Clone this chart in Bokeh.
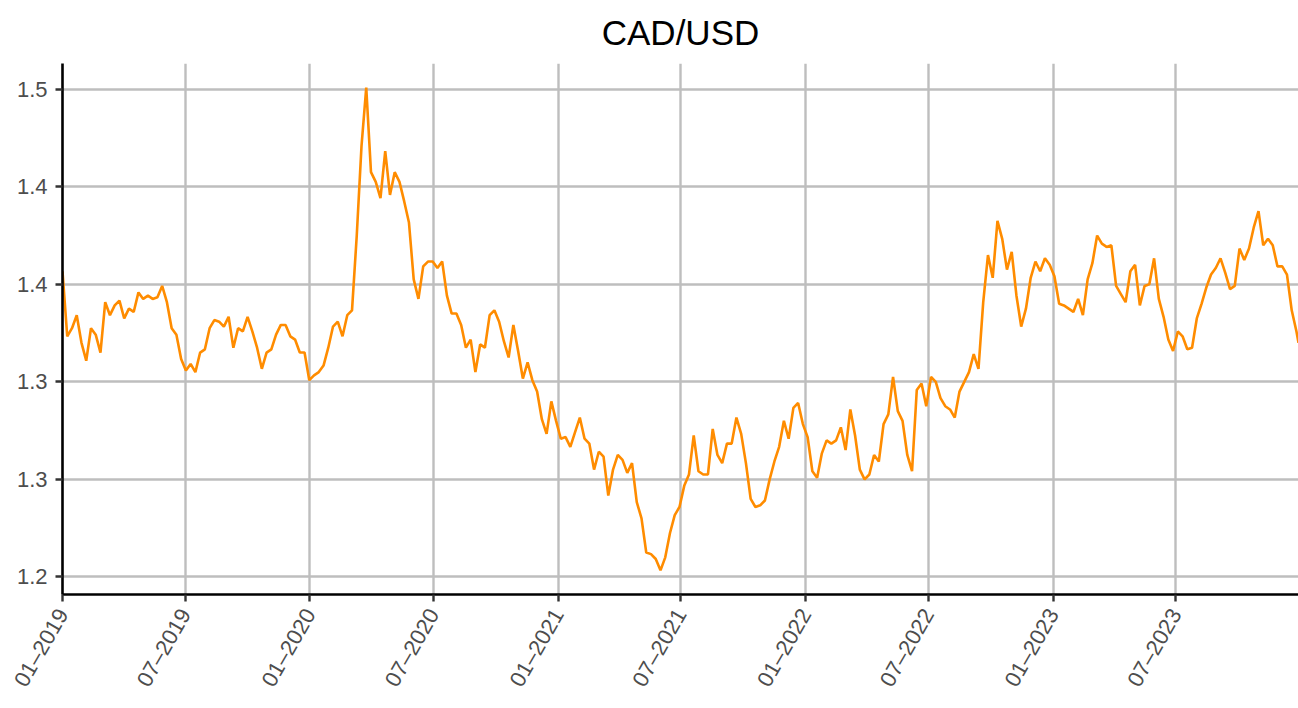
import pandas as pd
from bokeh.plotting import figure
from bokeh.models import Range1d, FixedTicker, DatetimeTickFormatter, PrintfTickFormatter, ColumnDataSource
from bokeh.embed import file_html
from bokeh.resources import INLINE

title_text = "CAD/USD"
start_date = "2019-01-01"
last_date = "2023-12-29"

# weekly readings of the CAD/USD series (from the picture)
rate_values = [
    1.388, 1.348, 1.353, 1.361, 1.344, 1.333, 1.353, 1.349, 1.338, 1.369,
    1.361, 1.367, 1.370, 1.359, 1.365, 1.363, 1.375, 1.371, 1.373, 1.371,
    1.372, 1.379, 1.369, 1.353, 1.349, 1.334, 1.327, 1.331, 1.326, 1.338,
    1.340, 1.353, 1.358, 1.357, 1.354, 1.360, 1.341, 1.353, 1.351, 1.360,
    1.351, 1.341, 1.328, 1.338, 1.340, 1.349, 1.355, 1.355, 1.348, 1.346,
    1.338, 1.338, 1.321, 1.324, 1.326, 1.330, 1.341, 1.354, 1.357, 1.348,
    1.361, 1.364, 1.410, 1.465, 1.501, 1.449, 1.443, 1.433, 1.462, 1.435,
    1.449, 1.443, 1.431, 1.418, 1.383, 1.371, 1.391, 1.394, 1.394, 1.390,
    1.394, 1.373, 1.362, 1.362, 1.355, 1.341, 1.346, 1.326, 1.343, 1.341,
    1.361, 1.364, 1.357, 1.345, 1.335, 1.355, 1.339, 1.322, 1.332, 1.321,
    1.314, 1.297, 1.288, 1.308, 1.296, 1.285, 1.286, 1.280, 1.289, 1.298,
    1.285, 1.282, 1.266, 1.277, 1.274, 1.250, 1.266, 1.275, 1.272, 1.264,
    1.270, 1.246, 1.236, 1.215, 1.214, 1.211, 1.204, 1.212, 1.227, 1.238,
    1.243, 1.256, 1.263, 1.287, 1.265, 1.263, 1.263, 1.291, 1.275, 1.270,
    1.282, 1.282, 1.298, 1.288, 1.270, 1.248, 1.243, 1.244, 1.247, 1.260,
    1.271, 1.280, 1.296, 1.285, 1.304, 1.307, 1.294, 1.286, 1.265, 1.261,
    1.276, 1.284, 1.282, 1.284, 1.292, 1.278, 1.303, 1.287, 1.266, 1.260,
    1.263, 1.275, 1.271, 1.294, 1.300, 1.323, 1.302, 1.296, 1.275, 1.265,
    1.315, 1.319, 1.305, 1.323, 1.320, 1.310, 1.305, 1.303, 1.298, 1.314,
    1.320, 1.326, 1.337, 1.328, 1.369, 1.398, 1.384, 1.419, 1.408, 1.389,
    1.400, 1.373, 1.354, 1.365, 1.384, 1.394, 1.388, 1.396, 1.392, 1.385,
    1.368, 1.367, 1.365, 1.363, 1.371, 1.361, 1.383, 1.393, 1.410, 1.405,
    1.403, 1.404, 1.379, 1.374, 1.369, 1.388, 1.392, 1.367, 1.379, 1.380,
    1.396, 1.371, 1.360, 1.346, 1.339, 1.351, 1.348, 1.340, 1.341, 1.359,
    1.368, 1.378, 1.386, 1.390, 1.396, 1.387, 1.377, 1.379, 1.402, 1.395,
    1.402, 1.415, 1.425, 1.404, 1.408, 1.404, 1.391, 1.391, 1.386, 1.364,
    1.351,
]
last_value = 1.344

x_tick_dates = ["2019-01-01", "2019-07-01", "2020-01-01", "2020-07-01", "2021-01-01",
                "2021-07-01", "2022-01-01", "2022-07-01", "2023-01-01", "2023-07-01"]
x_tick_labels = ["01–2019", "07–2019", "01–2020", "07–2020", "01–2021",
                 "07–2021", "01–2022", "07–2022", "01–2023", "07–2023"]
y_ticks = [1.2, 1.26, 1.32, 1.38, 1.44, 1.5]
y_tick_labels = ["1.2", "1.3", "1.3", "1.4", "1.4", "1.5"]

dates = list(pd.date_range(start_date, periods=len(rate_values), freq="7D")) + [pd.Timestamp(last_date)]
values = rate_values + [last_value]
source = ColumnDataSource(data=dict(date=dates, rate=values))

lo, hi = min(values), max(values)
pad = 0.05 * (hi - lo)

p = figure(width=1298, height=708, x_axis_type="datetime",
           output_backend="svg", toolbar_location=None,
           x_range=Range1d(dates[0].to_pydatetime(), dates[-1].to_pydatetime()),
           y_range=Range1d(lo - pad, hi + pad),
           min_border_left=62, min_border_right=0, min_border_top=63, min_border_bottom=114)

p.title.text = title_text
p.title.align = "center"
p.title.vertical_align = "top"
p.title.text_font = "Liberation Sans"
p.title.text_font_size = "35px"
p.title.text_font_style = "normal"
p.title.text_color = "#000000"
p.title.standoff = 20

p.outline_line_color = None
p.background_fill_color = "white"
p.border_fill_color = "white"

x_ms = [pd.Timestamp(d).value / 1e6 for d in x_tick_dates]
p.xaxis.ticker = FixedTicker(ticks=x_ms)
fmt = "%m–%Y"
p.xaxis.formatter = DatetimeTickFormatter(
    microseconds=fmt, milliseconds=fmt, seconds=fmt, minsec=fmt, minutes=fmt,
    hourmin=fmt, hours=fmt, days=fmt, months=fmt, years=fmt)
p.xaxis.major_label_overrides = {m: l for m, l in zip(x_ms, x_tick_labels)}
p.xaxis.major_label_orientation = 3.14159265 / 3

p.yaxis.ticker = FixedTicker(ticks=y_ticks)
p.yaxis.formatter = PrintfTickFormatter(format="%.1f")
p.yaxis.major_label_overrides = {t: l for t, l in zip(y_ticks, y_tick_labels)}

for ax in (p.xaxis, p.yaxis):
    ax.axis_line_color = "#000000"
    ax.axis_line_width = 2.6
    ax.major_tick_line_color = "#333333"
    ax.major_tick_line_width = 2.4
    ax.major_tick_out = 7
    ax.major_tick_in = 0
    ax.minor_tick_line_color = None
    ax.major_label_text_font = "Liberation Sans"
    ax.major_label_text_font_size = "22px"
    ax.major_label_text_color = "#4D4D4D"
p.yaxis.major_label_standoff = 8
p.xaxis.major_label_standoff = 9

p.xgrid.grid_line_color = "#BEBEBE"
p.ygrid.grid_line_color = "#BEBEBE"
p.xgrid.grid_line_width = 2.4
p.ygrid.grid_line_width = 2.4

p.line("date", "rate", source=source, line_color="#FF8C00", line_width=2.6)

open("out.html", "w").write(file_html(p, INLINE))
